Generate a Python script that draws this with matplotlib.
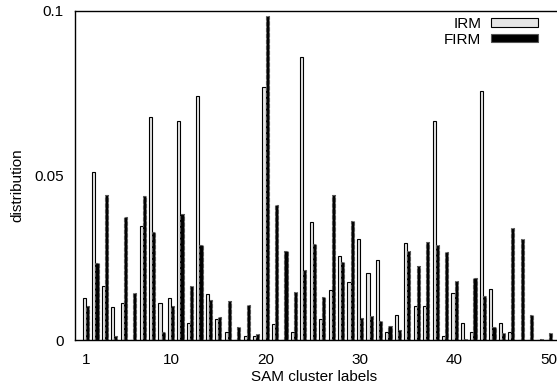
import numpy as np
import matplotlib.pyplot as plt
from matplotlib.patches import Patch

plt.rcParams["font.family"] = ["Liberation Sans", "DejaVu Sans"]
plt.rcParams["font.size"] = 11

# cluster labels 1..50
clusters = np.arange(1, 51)

irm = [0.0127, 0.0512, 0.0164, 0.0101, 0.0113, 0.0, 0.0347, 0.0679, 0.0113, 0.0127,
       0.0666, 0.0051, 0.0743, 0.0140, 0.0063, 0.0024, 0.0, 0.0012, 0.0012, 0.0768,
       0.0049, 0.0, 0.0024, 0.0859, 0.0358, 0.0063, 0.0152, 0.0255, 0.0177, 0.0306,
       0.0205, 0.0243, 0.0025, 0.0076, 0.0294, 0.0103, 0.0103, 0.0667, 0.0012, 0.0142,
       0.0051, 0.0024, 0.0758, 0.0154, 0.0051, 0.0024, 0.0, 0.0, 0.0, 0.0]

firm = [0.0104, 0.0233, 0.0441, 0.0012, 0.0373, 0.0142, 0.0438, 0.0327, 0.0025, 0.0104,
        0.0383, 0.0164, 0.0289, 0.0122, 0.0071, 0.0119, 0.0039, 0.0106, 0.0018, 0.0985,
        0.0410, 0.0271, 0.0147, 0.0213, 0.0292, 0.0132, 0.0441, 0.0238, 0.0362, 0.0066,
        0.0073, 0.0059, 0.0043, 0.0030, 0.0271, 0.0225, 0.0299, 0.0289, 0.0268, 0.0180,
        0.0004, 0.0189, 0.0135, 0.0041, 0.0022, 0.0340, 0.0307, 0.0075, 0.0003, 0.0022]

xticks = [1, 10, 20, 30, 40, 50]
yticks = [0, 0.05, 0.1]
ytick_labels = ["0", "0.05", "0.1"]

fig = plt.figure(figsize=(5.57, 3.91), dpi=100)
# plot box runs off the right edge like in the original crop
ax = fig.add_axes([75 / 557, 51 / 391, 493 / 557, 329 / 391])

w = 0.33
ax.bar(clusters - w, irm, width=w, align="edge", color="#e6e6e6",
       edgecolor="black", linewidth=0.8, label="IRM")
ax.bar(clusters, firm, width=w, align="edge", color="black",
       edgecolor="#555555", linewidth=0.8, linestyle="--", label="FIRM")

ax.set_xlim(-0.16, 52)
ax.set_ylim(0, 0.1)
ax.set_xticks(xticks)
ax.set_yticks(yticks)
ax.set_yticklabels(ytick_labels)
ax.tick_params(axis="both", length=0)
ax.tick_params(axis="x", pad=9)
ax.tick_params(axis="y", pad=8)
for s in ax.spines.values():
    s.set_linewidth(1.0)

ax.set_xlabel("SAM cluster labels")
ax.set_ylabel("distribution")
ax.xaxis.set_label_coords(0.485, -0.09)
ax.yaxis.set_label_coords(-0.103, 0.47)

handles = [Patch(facecolor="#e6e6e6", edgecolor="black", linewidth=0.8),
           Patch(facecolor="black", edgecolor="#555555", linewidth=0.8)]
fig.legend(handles, ["IRM", "FIRM"], loc="upper right",
           bbox_to_anchor=(538 / 557, 1 - 17 / 391), frameon=False,
           markerfirst=False, handlelength=3.1, handleheight=0.5,
           handletextpad=0.6, labelspacing=0.1, borderpad=0, borderaxespad=0)

fig.savefig("out.png", dpi=100)
